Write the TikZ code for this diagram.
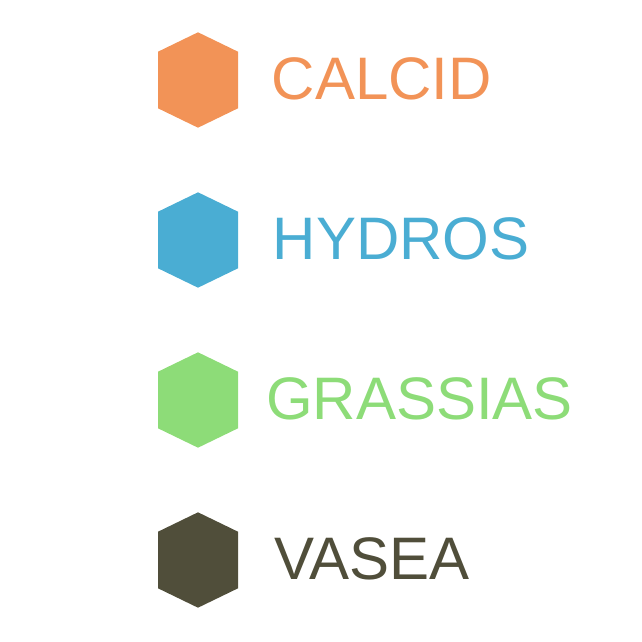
\documentclass[tikz,border=0pt]{standalone}
\usepackage{fontspec}
\setmainfont{Liberation Sans}
\usepackage{xcolor}
\usepackage{tikz}

\definecolor{calcid}{RGB}{242,147,87}
\definecolor{hydros}{RGB}{74,173,211}
\definecolor{grassias}{RGB}{141,220,120}
\definecolor{vasea}{RGB}{80,78,58}

\tikzset{
    label text/.style={anchor=base west, inner sep=0pt, font=\fontsize{60}{60}\selectfont},
    hexa/.style={shift={#1}}
}

\begin{document}
\begin{tikzpicture}[x=1pt, y=-1pt]
    \useasboundingbox (0,0) rectangle (642,642);

    % Hexagons
    \foreach \c/\y in {calcid/80, hydros/240, grassias/400, vasea/560}
        \fill[\c, hexa={(198,\y)}] (0,-47.7) -- (40,-28.3) -- (40,28.3) -- (0,47.7) -- (-40,28.3) -- (-40,-28.3) -- cycle;

    % Names
    \node[label text, text=calcid] (calcid) at (271.5,99.5) {CALCID};
    \node[label text, text=hydros] (hydros) at (272.5,259.5) {HYDROS};
    \node[label text, text=grassias] (grassias) at (266,419.5) {GRASSIAS};
    \node[label text, text=vasea] (vasea) at (274,579.5) {VASEA};
\end{tikzpicture}
\end{document}
